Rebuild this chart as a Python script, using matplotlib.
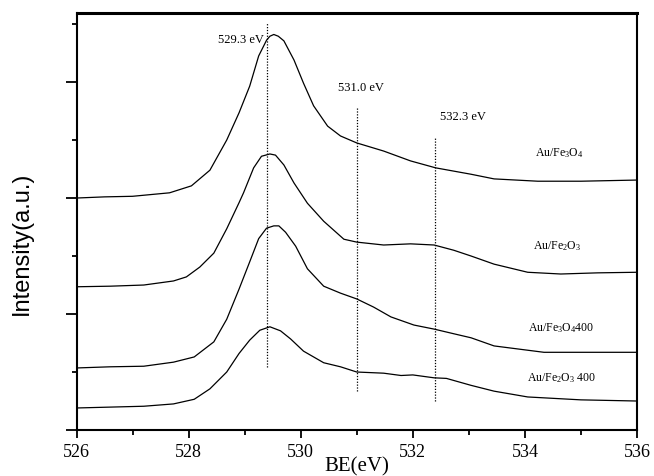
import numpy as np
import matplotlib
matplotlib.use("Agg")
import matplotlib.pyplot as plt
from matplotlib.ticker import MultipleLocator, NullFormatter

plt.rcParams['font.family'] = ['Liberation Serif', 'DejaVu Serif']
plt.rcParams['mathtext.fontset'] = 'custom'
plt.rcParams['mathtext.rm'] = 'Liberation Serif'
plt.rcParams['mathtext.it'] = 'Liberation Serif'

# binding energies and intensities (arb. units)
be_fe3o4 = [526.0, 526.5, 527.0, 527.66, 528.05, 528.38, 528.68, 528.9, 529.09, 529.25,
            529.39, 529.45, 529.52, 529.6, 529.7, 529.88, 530.05, 530.23, 530.48, 530.71,
            531.0, 531.48, 531.96, 532.41, 533.04, 533.45, 534.23, 535.0, 536.0]
i_fe3o4 = [4.00, 4.02, 4.03, 4.09, 4.21, 4.48, 5.00, 5.47, 5.93, 6.45,
           6.72, 6.79, 6.82, 6.79, 6.71, 6.38, 5.98, 5.59, 5.24, 5.07,
           4.95, 4.81, 4.64, 4.52, 4.41, 4.33, 4.29, 4.29, 4.31]

be_fe2o3 = [526.0, 526.6, 527.2, 527.73, 527.96, 528.2, 528.45, 528.68, 528.9, 528.98,
            529.16, 529.3, 529.45, 529.55, 529.7, 529.88, 530.12, 530.41, 530.77, 531.0,
            531.48, 531.96, 532.38, 532.73, 533.04, 533.45, 534.05, 534.64, 535.3, 536.0]
i_fe2o3 = [2.47, 2.48, 2.50, 2.57, 2.64, 2.81, 3.05, 3.47, 3.92, 4.09,
           4.52, 4.72, 4.76, 4.74, 4.57, 4.26, 3.91, 3.60, 3.29, 3.24,
           3.19, 3.21, 3.19, 3.10, 3.00, 2.86, 2.72, 2.69, 2.71, 2.72]

be_fe3o4_400 = [526.0, 526.6, 527.2, 527.73, 528.1, 528.45, 528.68, 528.9, 529.09, 529.25,
                529.39, 529.52, 529.61, 529.73, 529.91, 530.12, 530.41, 530.71, 531.0, 531.3,
                531.61, 532.02, 532.38, 532.73, 533.04, 533.45, 534.34, 535.2, 536.0]
i_fe3o4_400 = [1.07, 1.09, 1.10, 1.17, 1.26, 1.52, 1.91, 2.43, 2.90, 3.30,
               3.48, 3.52, 3.52, 3.41, 3.17, 2.78, 2.48, 2.36, 2.26, 2.12,
               1.95, 1.81, 1.74, 1.66, 1.59, 1.45, 1.34, 1.34, 1.34]

be_fe2o3_400 = [526.0, 527.2, 527.73, 528.1, 528.38, 528.68, 528.9, 529.09, 529.27, 529.45,
                529.64, 529.82, 530.05, 530.41, 530.71, 531.0, 531.48, 531.79, 532.0, 532.38,
                532.6, 533.04, 533.45, 534.05, 535.0, 536.0]
i_fe2o3_400 = [0.38, 0.41, 0.45, 0.53, 0.71, 1.00, 1.32, 1.55, 1.72, 1.78,
               1.71, 1.57, 1.36, 1.16, 1.09, 1.00, 0.98, 0.94, 0.95, 0.90,
               0.89, 0.77, 0.67, 0.57, 0.52, 0.50]

# reference peak positions: x, bottom, top, label
peak_x = [529.4, 531.0, 532.4]
peak_ybot = [1.09, 0.67, 0.50]
peak_ytop = [7.02, 5.57, 5.03]
peak_labels = ['529.3 eV', '531.0 eV', '532.3 eV']

sample_labels = [r'Au/Fe$_{\mathrm{3}}$O$_{\mathrm{4}}$',
                 r'Au/Fe$_{\mathrm{2}}$O$_{\mathrm{3}}$',
                 r'Au/Fe$_{\mathrm{3}}$O$_{\mathrm{4}}$400',
                 r'Au/Fe$_{\mathrm{2}}$O$_{\mathrm{3}}$ 400']

fig = plt.figure(figsize=(6.54, 4.77), dpi=100)
ax = fig.add_axes([0.117, 0.0964, 0.857, 0.8742])

for be, inten in [(be_fe3o4, i_fe3o4), (be_fe2o3, i_fe2o3),
                  (be_fe3o4_400, i_fe3o4_400), (be_fe2o3_400, i_fe2o3_400)]:
    ax.plot(be, inten, color='black', lw=0.9, solid_joinstyle='round')

for x, y0, y1 in zip(peak_x, peak_ybot, peak_ytop):
    ax.plot([x, x], [y0, y1], color='black', lw=0.9, linestyle=(0, (1, 1.3)))

ax.text(529.34, 6.74, peak_labels[0], ha='right', va='center', fontsize=9)
ax.text(530.67, 5.91, peak_labels[1], ha='left', va='center', fontsize=9)
ax.text(532.49, 5.41, peak_labels[2], ha='left', va='center', fontsize=9)

lab_pos = [(534.61, 4.79), (534.58, 3.19), (534.65, 1.78), (534.65, 0.91)]
for (lx, ly), s in zip(lab_pos, sample_labels):
    ax.text(lx, ly, s, ha='center', va='center', fontsize=8.5)

ax.set_xlim(526, 536)
ax.set_ylim(0, 7.19)
ax.xaxis.set_major_locator(MultipleLocator(2))
ax.xaxis.set_minor_locator(MultipleLocator(1))
ax.yaxis.set_major_locator(MultipleLocator(2))
ax.yaxis.set_minor_locator(MultipleLocator(1))
ax.yaxis.set_major_formatter(NullFormatter())
ax.tick_params(axis='both', which='major', direction='out', length=6, width=1.3, labelsize=13)
ax.tick_params(axis='both', which='minor', direction='out', length=3.5, width=1.3)
ax.tick_params(axis='y', which='major', length=8)

for side in ['left', 'bottom', 'right']:
    ax.spines[side].set_linewidth(1.5)
ax.spines['top'].set_linewidth(2.2)

ax.set_xlabel('BE(eV)', fontsize=15, labelpad=-3)
fig.text(0.034, 0.49, 'Intensity(a.u.)', rotation=90, ha='center', va='center',
         fontsize=17, family=['Liberation Sans', 'DejaVu Sans'])

fig.savefig('out.png', dpi=100)
